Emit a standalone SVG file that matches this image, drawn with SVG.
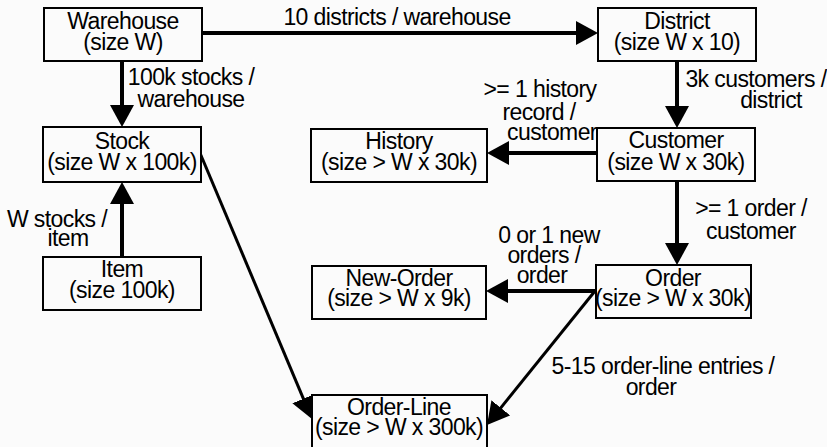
<svg xmlns="http://www.w3.org/2000/svg" width="827" height="447" viewBox="0 0 827 447">
<style>
text{font-family:"Liberation Sans",Arial,sans-serif;font-size:23px;letter-spacing:-0.6px;fill:#000;text-anchor:middle}
.box{fill:#fbfbfb;stroke:#000;stroke-width:2}
.c{stroke:#000;stroke-width:4;fill:none;marker-end:url(#ah)}
.d{stroke:#000;stroke-width:3;fill:none;marker-end:url(#ah)}
</style>
<defs>
<marker id="ah" markerUnits="userSpaceOnUse" markerWidth="24" markerHeight="26" refX="18" refY="12" orient="auto" viewBox="0 0 24 24">
<path d="M0,0 L22,12 L0,24 Z" fill="#000"/>
</marker>
</defs>
<rect width="827" height="447" fill="#fbfbfb"/>
<g id="connectors">
<line class="c" x1="202" y1="33" x2="594" y2="33"/>
<line class="c" x1="122" y1="61" x2="122" y2="123"/>
<line class="c" x1="122" y1="257" x2="122" y2="186"/>
<line class="c" x1="677" y1="61" x2="677" y2="124"/>
<line class="c" x1="597" y1="153" x2="491" y2="153"/>
<line class="c" x1="677" y1="181" x2="677" y2="261"/>
<line class="c" x1="596" y1="291" x2="490" y2="291"/>
<line class="d" x1="595" y1="291" x2="489.5" y2="421.9"/>
<line class="d" x1="200" y1="153" x2="310.4" y2="415.3"/>
<text x="397" y="25">10 districts / warehouse</text>
<text x="191" y="85">100k stocks /</text>
<text x="191" y="107">warehouse</text>
<text x="57" y="227">W stocks /</text>
<text x="68" y="246">item</text>
<text x="756" y="87">3k customers /</text>
<text x="771" y="108">district</text>
<text x="540" y="97">&gt;= 1 history</text>
<text x="539" y="120">record /</text>
<text x="552" y="140">customer</text>
<text x="751" y="216">&gt;= 1 order /</text>
<text x="751" y="239">customer</text>
<text x="549" y="243">0 or 1 new</text>
<text x="544" y="263">orders /</text>
<text x="542" y="283">order</text>
<text x="663" y="374">5-15 order-line entries /</text>
<text x="651" y="395">order</text>
</g>
<g id="warehouse"><rect class="box" x="44" y="8" width="158" height="53"/><text x="123" y="29">Warehouse</text><text x="123" y="50">(size W)</text></g>
<g id="district"><rect class="box" x="598" y="8" width="158" height="53"/><text x="677" y="29">District</text><text x="677" y="50">(size W x 10)</text></g>
<g id="stock"><rect class="box" x="43" y="127" width="158" height="55"/><text x="122" y="149">Stock</text><text x="122" y="170">(size W x 100k)</text></g>
<g id="history"><rect class="box" x="311" y="129" width="176" height="53"/><text x="399" y="149">History</text><text x="399" y="170">(size &gt; W x 30k)</text></g>
<g id="customer"><rect class="box" x="597" y="128" width="158" height="53"/><text x="676" y="148">Customer</text><text x="676" y="170">(size W x 30k)</text></g>
<g id="item"><rect class="box" x="43" y="257" width="158" height="53"/><text x="122" y="277">Item</text><text x="122" y="298">(size 100k)</text></g>
<g id="new-order"><rect class="box" x="312" y="266" width="174" height="53"/><text x="399" y="286">New-Order</text><text x="399" y="306">(size &gt; W x 9k)</text></g>
<g id="order"><rect class="box" x="596" y="265" width="155" height="53"/><text x="673" y="286">Order</text><text x="673" y="306">(size &gt; W x 30k)</text></g>
<g id="order-line"><rect class="box" x="312" y="395" width="175" height="60"/><text x="399" y="415">Order-Line</text><text x="399" y="435">(size &gt; W x 300k)</text></g>
</svg>
